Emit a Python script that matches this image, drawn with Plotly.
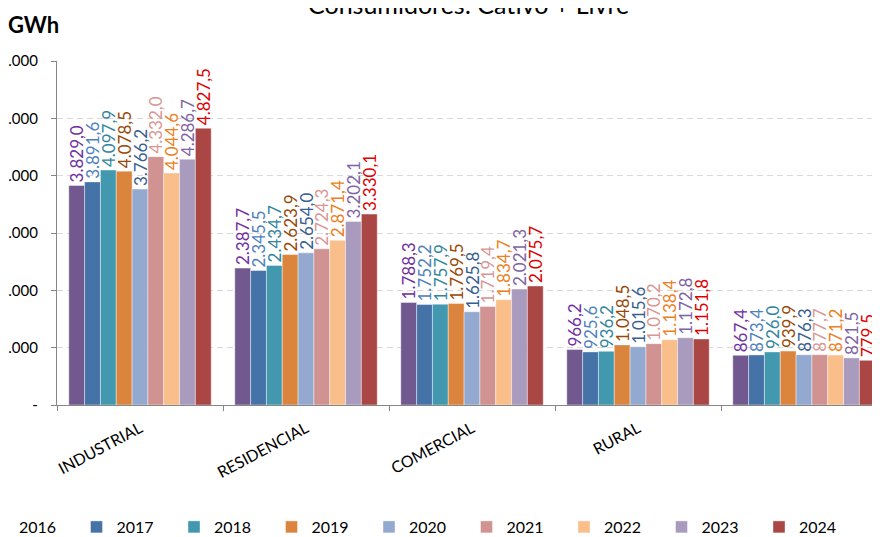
import plotly.graph_objects as go

categories = ["INDUSTRIAL", "RESIDENCIAL", "COMERCIAL", "RURAL", "OUTROS"]
tick_labels = ["INDUSTRIAL", "RESIDENCIAL", "COMERCIAL", "RURAL", ""]
years = ["2016", "2017", "2018", "2019", "2020", "2021", "2022", "2023", "2024"]

v2016 = [3829.0, 2387.7, 1788.3, 966.2, 867.4]
v2017 = [3891.6, 2345.5, 1752.2, 925.6, 873.4]
v2018 = [4097.9, 2434.7, 1757.9, 936.2, 926.0]
v2019 = [4078.5, 2623.9, 1769.5, 1048.5, 939.9]
v2020 = [3766.2, 2654.0, 1625.8, 1015.6, 876.3]
v2021 = [4332.0, 2724.3, 1719.4, 1070.2, 877.7]
v2022 = [4044.6, 2871.4, 1834.7, 1138.4, 871.2]
v2023 = [4286.7, 3202.1, 2021.3, 1172.8, 821.5]
v2024 = [4827.5, 3330.1, 2075.7, 1151.8, 779.5]
series = [v2016, v2017, v2018, v2019, v2020, v2021, v2022, v2023, v2024]

y_tickvals = [0, 1000, 2000, 3000, 4000, 5000, 6000]
y_ticktext = ["-", "1.000", "2.000", "3.000", "4.000", "5.000", "6.000"]

bar_colors = ["#71588F", "#4572A7", "#4198AF", "#DB843D", "#93A9CF",
              "#D19392", "#F9BE89", "#A99BBD", "#AA4643"]
label_colors = ["#7030A0", "#4F81BD", "#31859C", "#984807", "#376092",
                "#DA9694", "#EE7F22", "#8064A2", "#E00000"]

FONT = "Lato, Carlito, Calibri, sans-serif"

# page has an 8px body margin; plot area aimed at screen x 57..888, y 61..405
L, T, W, H = 49, 53, 831, 344

fig = go.Figure()
for yr, vals, bc, lc in zip(years, series, bar_colors, label_colors):
    fig.add_trace(go.Bar(
        name=yr, x=categories, y=vals,
        marker=dict(color=bc, line=dict(color="rgba(255,255,255,0.7)", width=0.6)),
        texttemplate="%{y:,.1f}", textposition="outside", textangle=-90,
        textfont=dict(color=lc, size=17, family=FONT),
        constraintext="none", cliponaxis=False,
    ))

fig.update_layout(
    width=880, height=537,
    margin=dict(l=L, r=0, t=T, b=537 - T - H, autoexpand=False),
    paper_bgcolor="white", plot_bgcolor="white",
    barmode="group", bargap=0.142, bargroupgap=0,
    separators=",.",
    font=dict(family=FONT, color="#000000"),
    showlegend=True,
    legend=dict(orientation="h", x=(-29 - L) / W, xanchor="left",
                y=-(519 - (T + H)) / H, yanchor="middle",
                font=dict(size=16, color="#000000", family=FONT),
                entrywidth=52.5, itemwidth=30, traceorder="normal"),
    xaxis=dict(
        type="category", range=[-0.5, 4.506], automargin=False,
        tickmode="array", tickvals=categories, ticktext=tick_labels,
        tickson="boundaries", ticks="outside", ticklen=5, tickcolor="#868686",
        showline=True, linecolor="#868686", linewidth=1.3,
        tickangle=-28, ticklabelstandoff=7,
        tickfont=dict(size=16, family=FONT, color="#000000"),
        showgrid=False,
    ),
    yaxis=dict(
        range=[0, 6000], tickmode="array", tickvals=y_tickvals, ticktext=y_ticktext,
        automargin=False,
        ticks="outside", ticklen=5, tickcolor="#868686",
        showline=True, linecolor="#868686", linewidth=1.3,
        showgrid=True, gridcolor="#D9D9D9", griddash="6px,4px", gridwidth=1,
        zeroline=False, ticklabelstandoff=10,
        tickfont=dict(size=15, family=FONT, color="#000000"),
    ),
    annotations=[
        dict(text="Consumidores: Cativo + Livre", xref="paper", yref="paper",
             x=(460 - L) / W, y=1 + (T - 13) / H, xanchor="center", yanchor="bottom",
             showarrow=False, font=dict(size=25, family=FONT, color="#000000")),
        dict(text="<b>GWh</b>", xref="paper", yref="paper",
             x=(-2 - L) / W, y=1 + (T - 32) / H, xanchor="left", yanchor="bottom",
             showarrow=False, font=dict(size=22, family=FONT, color="#000000")),
    ],
)

fig.write_html("out.html")
